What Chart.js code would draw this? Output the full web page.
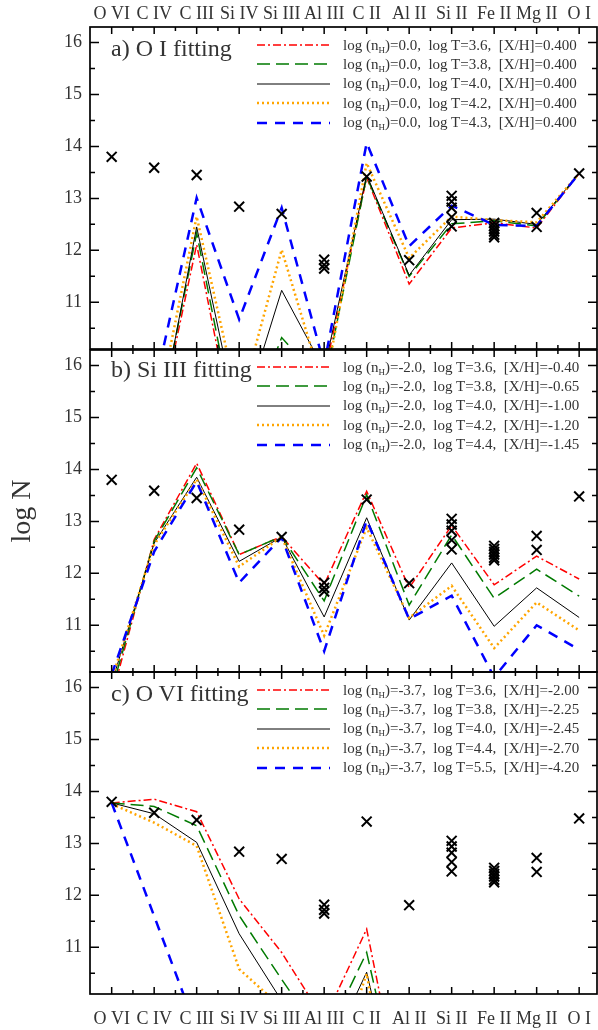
<!DOCTYPE html>
<html>
<head>
<meta charset="utf-8">
<script src="https://cdn.jsdelivr.net/npm/chart.js@4.4.1/dist/chart.umd.min.js"></script>
<style>
  html, body { margin: 0; padding: 0; background: #fff; }
  body { width: 598px; height: 1030px; position: relative; overflow: hidden;
         font-family: 'Liberation Serif', 'Times New Roman', serif; color: #333; }
  canvas { position: absolute; left: 0; }
  .title { position: absolute; left: 111px; font-size: 24px; line-height: 24px; white-space: nowrap; }
  .legend { position: absolute; left: 257px; width: 340px; }
  .row { position: absolute; left: 0; height: 20px; display: flex; align-items: center; white-space: pre; font-size: 15px; }
  .row svg { width: 73px; height: 10px; flex: none; }
  .row span.t { margin-left: 13px; }
  sub { font-size: 9px; vertical-align: -3px; line-height: 0; }
</style>
</head>
<body>
<canvas id="pa" width="598" height="350" style="top:0px"></canvas>
<canvas id="pb" width="598" height="324" style="top:349px"></canvas>
<canvas id="pc" width="598" height="359" style="top:671px"></canvas>

<div class="title" style="top:36px">a) O I fitting</div>
<div class="title" style="top:357px">b) Si III fitting</div>
<div class="title" style="top:681px">c) O VI fitting</div>
<div class="legend" id="la" style="top:35px"></div>
<div class="legend" id="lb" style="top:357px"></div>
<div class="legend" id="lc" style="top:680px"></div>

<script>
// Ion sequence along the horizontal axis
const ions = ['O VI', 'C IV', 'C III', 'Si IV', 'Si III', 'Al III', 'C II', 'Al II', 'Si II', 'Fe II', 'Mg II', 'O I'];

// Measured column densities (ion index, log N)
const obsIon  = [0, 1, 2, 3, 4, 5, 5, 5, 6, 7, 8, 8, 8, 8, 8, 9, 9, 9, 9, 9, 9, 10, 10, 11];
const obsLogN = [13.80, 13.59, 13.45, 12.84, 12.70, 11.82, 11.72, 11.65, 13.42, 11.81,
                 13.05, 12.94, 12.82, 12.64, 12.46,
                 12.53, 12.47, 12.41, 12.36, 12.30, 12.25,
                 12.72, 12.45, 13.48];

// a) models tuned on O I
const fitOI_T36 = [7.0, 8.25, 12.11, 8.0, 9.8, 9.6, 13.40, 11.35, 12.43, 12.53, 12.43, 13.48];
const fitOI_T38 = [7.0, 8.27, 12.33, 8.2, 10.32, 9.4, 13.42, 11.50, 12.51, 12.57, 12.47, 13.48];
const fitOI_T40 = [7.0, 8.18, 12.45, 8.6, 11.23, 9.7, 13.45, 11.52, 12.59, 12.60, 12.50, 13.48];
const fitOI_T42 = [7.0, 8.6, 12.65, 9.0, 12.01, 9.3, 13.68, 11.85, 12.65, 12.58, 12.54, 13.48];
const fitOI_T43 = [8.0, 9.33, 13.01, 10.67, 12.82, 9.8, 14.07, 12.08, 12.86, 12.49, 12.47, 13.48];

// b) models tuned on Si III
const fitSiIII_T36 = [9.62, 12.65, 14.12, 12.36, 12.71, 11.78, 13.58, 11.72, 12.92, 11.78, 12.33, 11.89];
const fitSiIII_T38 = [9.75, 12.62, 14.03, 12.36, 12.71, 11.47, 13.51, 11.39, 12.74, 11.52, 12.08, 11.56];
const fitSiIII_T40 = [9.88, 12.58, 13.85, 12.23, 12.70, 11.16, 13.07, 11.10, 12.20, 10.98, 11.72, 11.15];
const fitSiIII_T42 = [9.95, 12.55, 13.81, 12.13, 12.70, 10.80, 12.88, 11.14, 11.76, 10.56, 11.44, 10.90];
const fitSiIII_T44 = [10.05, 12.42, 13.77, 11.82, 12.69, 10.50, 13.02, 11.12, 11.57, 10.00, 11.00, 10.53];

// c) models tuned on O VI
const fitOVI_T36 = [13.78, 13.85, 13.61, 11.93, 10.90, 9.60, 11.35, 7.3, 7.0, 7.0, 7.0, 7.0];
const fitOVI_T38 = [13.78, 13.71, 13.34, 11.61, 10.38, 9.20, 10.90, 7.3, 7.0, 7.0, 7.0, 7.0];
const fitOVI_T40 = [13.78, 13.57, 13.02, 11.26, 9.97, 8.77, 10.52, 7.0, 7.0, 7.0, 7.0, 7.0];
const fitOVI_T44 = [13.76, 13.40, 12.95, 10.58, 9.84, 8.06, 10.49, 6.0, 6.0, 6.0, 6.0, 6.0];
const fitOVI_T55 = [13.78, 11.60, 9.42, 7.0, 6.0, 5.5, 5.5, 5.0, 5.0, 5.0, 5.0, 5.0];

// Model parameters shown in each legend
const nH_OI = '0.0';
const logT_OI = ['3.6', '3.8', '4.0', '4.2', '4.3'];
const XH_OI = ['0.400', '0.400', '0.400', '0.400', '0.400'];
const nH_SiIII = '-2.0';
const logT_SiIII = ['3.6', '3.8', '4.0', '4.2', '4.4'];
const XH_SiIII = ['-0.40', '-0.65', '-1.00', '-1.20', '-1.45'];
const nH_OVI = '-3.7';
const logT_OVI = ['3.6', '3.8', '4.0', '4.4', '5.5'];
const XH_OVI = ['-2.00', '-2.25', '-2.45', '-2.70', '-4.20'];

const yTicks = [11, 12, 13, 14, 15, 16];

// Line appearance for the five temperatures, in legend order
const lineStyles = [
  { color: '#ff0000', dash: [8, 3, 2, 3], width: 1.5 },
  { color: '#007a00', dash: [13, 6], width: 1.5 },
  { color: '#000000', dash: [], width: 1 },
  { color: '#ffa500', dash: [2, 3], width: 2.5 },
  { color: '#0000ff', dash: [10, 8], width: 2.5 }
];

const SERIF = "'Liberation Serif', 'Times New Roman', serif";
const TXT = '#333';

// Frame with inward-pointing major/minor ticks on all four sides
const frameTicks = {
  id: 'frameTicks',
  afterDatasetsDraw(chart) {
    const { ctx, chartArea: a, scales: { x, y } } = chart;
    ctx.save();
    ctx.strokeStyle = '#000';
    ctx.lineWidth = 1.5;
    ctx.beginPath();
    for (let k = 21; k <= 32; k++) {
      const v = k / 2;
      const py = y.getPixelForValue(v);
      const len = (k % 2 === 0) ? 9 : 5;
      ctx.moveTo(a.left, py); ctx.lineTo(a.left + len, py);
      ctx.moveTo(a.right, py); ctx.lineTo(a.right - len, py);
    }
    for (let k = 0; k <= 22; k++) {
      const v = k / 2;
      const px = x.getPixelForValue(v);
      const len = (k % 2 === 0) ? 7 : 4;
      ctx.moveTo(px, a.top); ctx.lineTo(px, a.top + len);
      ctx.moveTo(px, a.bottom); ctx.lineTo(px, a.bottom - len);
    }
    ctx.stroke();
    ctx.lineWidth = 1.7;
    ctx.strokeRect(a.left, a.top, a.right - a.left, a.bottom - a.top);
    ctx.restore();
  }
};

function makePanel(id, fits, opt) {
  const datasets = [{
    data: obsIon.map((ix, k) => ({ x: ix, y: obsLogN[k] })),
    showLine: false,
    pointStyle: 'crossRot',
    pointRadius: 7,
    pointBorderWidth: 2,
    pointBorderColor: '#000',
    pointBackgroundColor: '#000',
    order: 0
  }];
  fits.forEach((vals, s) => {
    const st = lineStyles[s];
    datasets.push({
      data: vals.map((v, i) => ({ x: i, y: v })),
      borderColor: st.color,
      borderDash: st.dash,
      borderWidth: st.width,
      pointRadius: 0,
      tension: 0,
      fill: false,
      order: 5 - s
    });
  });

  const xAxis = {
    type: 'linear',
    min: -0.51, max: 11.42,
    display: opt.xPos !== null,
    position: opt.xPos || 'bottom',
    grid: { display: false, drawTicks: false },
    border: { display: false },
    ticks: {
      autoSkip: false, maxRotation: 0, padding: opt.xPad || 0,
      font: { family: SERIF, size: 18 }, color: TXT,
      callback: v => ions[v]
    },
    afterBuildTicks: s => { s.ticks = ions.map((_, i) => ({ value: i })); },
    afterFit: s => {
      s.height = opt.xH || 0;
      s.paddingLeft = 0; s.paddingRight = 0; s.paddingTop = 0; s.paddingBottom = 0;
    }
  };

  const yAxis = {
    type: 'linear',
    min: 10.1, max: 16.3,
    grid: { display: false, drawTicks: false },
    border: { display: false },
    ticks: { padding: 8, font: { family: SERIF, size: 18 }, color: TXT },
    afterBuildTicks: s => { s.ticks = yTicks.map(v => ({ value: v })); },
    afterFit: s => {
      s.width = 90;
      s.paddingLeft = 0; s.paddingRight = 0; s.paddingTop = 0; s.paddingBottom = 0;
    },
    title: opt.yTitle ? {
      display: true, text: opt.yTitle, color: TXT,
      font: { family: SERIF, size: 28 }, padding: { top: 6, bottom: 0 }
    } : { display: false }
  };

  new Chart(document.getElementById(id), {
    type: 'line',
    data: { datasets },
    options: {
      responsive: false,
      devicePixelRatio: 1,
      animation: false,
      layout: { padding: opt.pad, autoPadding: false },
      plugins: { legend: { display: false }, tooltip: { enabled: false } },
      scales: { x: xAxis, y: yAxis }
    },
    plugins: [frameTicks]
  });
}

makePanel('pa', [fitOI_T36, fitOI_T38, fitOI_T40, fitOI_T42, fitOI_T43],
  { xPos: 'top', xH: 27, xPad: 2, pad: { top: 0, bottom: 1, left: 0, right: 1 } });
makePanel('pb', [fitSiIII_T36, fitSiIII_T38, fitSiIII_T40, fitSiIII_T42, fitSiIII_T44],
  { xPos: null, yTitle: 'log N', pad: { top: 1, bottom: 1, left: 0, right: 1 } });
makePanel('pc', [fitOVI_T36, fitOVI_T38, fitOVI_T40, fitOVI_T44, fitOVI_T55],
  { xPos: 'bottom', xH: 36, xPad: 14, pad: { top: 1, bottom: 0, left: 0, right: 1 } });

// Legends: line sample plus model parameters
function buildLegend(elId, nH, temps, metals) {
  const box = document.getElementById(elId);
  temps.forEach((t, s) => {
    const st = lineStyles[s];
    const row = document.createElement('div');
    row.className = 'row';
    row.style.top = (s * 19.4) + 'px';
    const dash = st.dash.length ? st.dash.join(' ') : 'none';
    row.innerHTML =
      '<svg viewBox="0 0 73 10"><line x1="0" y1="5" x2="73" y2="5" stroke="' + st.color +
      '" stroke-width="' + st.width + '" stroke-dasharray="' + dash + '"/></svg>' +
      '<span class="t">log (n<sub>H</sub>)=' + nH + ',  log T=' + t + ',  [X/H]=' + metals[s] + '</span>';
    box.appendChild(row);
  });
}
buildLegend('la', nH_OI, logT_OI, XH_OI);
buildLegend('lb', nH_SiIII, logT_SiIII, XH_SiIII);
buildLegend('lc', nH_OVI, logT_OVI, XH_OVI);
</script>
</body>
</html>
